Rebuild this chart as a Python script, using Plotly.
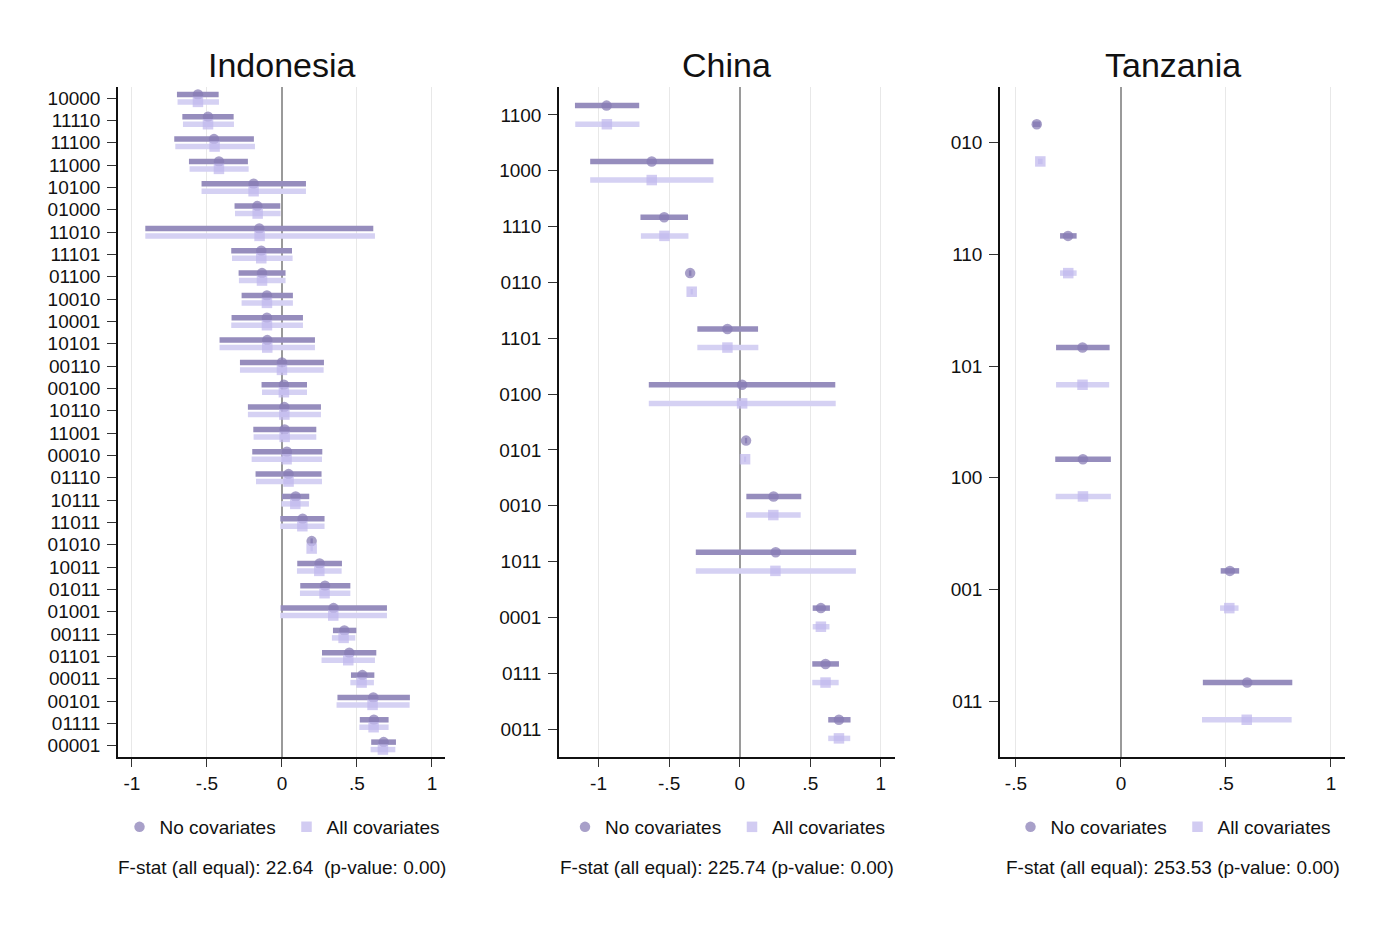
import plotly.graph_objects as go

# ---------------- data ----------------
ind_labels = ["10000", "11110", "11100", "11000", "10100", "01000", "11010", "11101", "01100", "10010",
              "10001", "10101", "00110", "00100", "10110", "11001", "00010", "01110", "10111", "11011",
              "01010", "10011", "01011", "01001", "00111", "01101", "00011", "00101", "01111", "00001"]
ind_nc_est = [-0.560, -0.493, -0.453, -0.420, -0.189, -0.164, -0.151, -0.138, -0.133, -0.100,
              -0.100, -0.098, 0.000, 0.013, 0.016, 0.018, 0.033, 0.044, 0.091, 0.138,
              0.198, 0.251, 0.287, 0.344, 0.416, 0.449, 0.536, 0.609, 0.613, 0.678]
ind_nc_lo = [-0.700, -0.664, -0.718, -0.620, -0.536, -0.316, -0.911, -0.338, -0.289, -0.269,
             -0.336, -0.416, -0.280, -0.136, -0.227, -0.191, -0.198, -0.176, 0.000, -0.011,
             0.190, 0.102, 0.122, -0.009, 0.340, 0.267, 0.460, 0.370, 0.519, 0.595]
ind_nc_hi = [-0.422, -0.322, -0.187, -0.227, 0.160, -0.011, 0.609, 0.067, 0.024, 0.073,
             0.140, 0.220, 0.280, 0.167, 0.260, 0.229, 0.269, 0.264, 0.182, 0.284,
             0.206, 0.400, 0.456, 0.700, 0.496, 0.629, 0.616, 0.853, 0.711, 0.760]
ind_ac_est = [-0.560, -0.493, -0.449, -0.420, -0.189, -0.162, -0.149, -0.138, -0.133, -0.100,
              -0.100, -0.098, 0.000, 0.013, 0.016, 0.018, 0.031, 0.044, 0.089, 0.136,
              0.198, 0.249, 0.284, 0.342, 0.411, 0.442, 0.531, 0.604, 0.611, 0.673]
ind_ac_lo = [-0.696, -0.660, -0.711, -0.616, -0.536, -0.313, -0.911, -0.333, -0.287, -0.269,
             -0.338, -0.416, -0.280, -0.133, -0.227, -0.189, -0.202, -0.173, -0.004, -0.011,
             0.190, 0.100, 0.120, -0.011, 0.333, 0.264, 0.456, 0.364, 0.516, 0.591]
ind_ac_hi = [-0.420, -0.320, -0.180, -0.222, 0.160, -0.009, 0.620, 0.071, 0.024, 0.073,
             0.140, 0.220, 0.278, 0.167, 0.260, 0.229, 0.267, 0.267, 0.180, 0.284,
             0.206, 0.398, 0.456, 0.700, 0.489, 0.620, 0.613, 0.851, 0.711, 0.756]

chn_labels = ["1100", "1000", "1110", "0110", "1101", "0100", "0101", "0010", "1011", "0001", "0111", "0011"]
chn_nc_est = [-0.943, -0.623, -0.535, -0.351, -0.087, 0.017, 0.045, 0.240, 0.255, 0.575, 0.608, 0.703]
chn_nc_lo = [-1.167, -1.059, -0.703, -0.360, -0.300, -0.644, 0.037, 0.047, -0.311, 0.517, 0.514, 0.627]
chn_nc_hi = [-0.712, -0.186, -0.366, -0.342, 0.130, 0.677, 0.053, 0.436, 0.825, 0.639, 0.703, 0.785]
chn_ac_est = [-0.941, -0.623, -0.533, -0.340, -0.087, 0.017, 0.038, 0.238, 0.253, 0.575, 0.608, 0.703]
chn_ac_lo = [-1.165, -1.059, -0.700, -0.348, -0.300, -0.644, 0.030, 0.045, -0.311, 0.517, 0.514, 0.627]
chn_ac_hi = [-0.710, -0.186, -0.363, -0.332, 0.132, 0.680, 0.046, 0.432, 0.823, 0.636, 0.701, 0.783]

tza_labels = ["010", "110", "101", "100", "001", "011"]
tza_nc_est = [-0.401, -0.252, -0.183, -0.181, 0.519, 0.601]
tza_nc_lo = [-0.420, -0.290, -0.309, -0.313, 0.475, 0.390]
tza_nc_hi = [-0.383, -0.211, -0.054, -0.048, 0.563, 0.816]
tza_ac_est = [-0.384, -0.251, -0.183, -0.181, 0.516, 0.599]
tza_ac_lo = [-0.395, -0.290, -0.309, -0.311, 0.472, 0.386]
tza_ac_hi = [-0.373, -0.211, -0.056, -0.048, 0.560, 0.813]

x_tickvals = [-1, -0.5, 0, 0.5, 1]
x_ticktext = ["-1", "-.5", "0", ".5", "1"]

panel_titles = ["Indonesia", "China", "Tanzania"]
fstat_texts = ["F-stat (all equal): 22.64  (p-value: 0.00)",
               "F-stat (all equal): 225.74 (p-value: 0.00)",
               "F-stat (all equal): 253.53 (p-value: 0.00)"]
series_names = ["No covariates", "All covariates"]

# ---------------- style / layout ----------------
W, H = 1392, 928
PAD = 8  # page body margin offset
FONT = "Liberation Sans, Arial, sans-serif"
DARK_BAR = "rgb(150,141,189)"
DARK_MK = "rgba(135,124,180,0.72)"
LIGHT_BAR = "rgb(213,209,243)"
LIGHT_MK = "rgba(192,185,237,0.72)"


def px_x(v):
    return (v - PAD) / W


def px_y(v):
    return 1 - (v - PAD) / H


panel_x = [(118, 445), (559, 895), (1000, 1345)]
panel_xrange = [(-1.093, 1.087), (-1.28, 1.10), (-0.576, 1.067)]
top_px, bot_px = 87, 757
OFF = 1.0 / 6.0

panels = [
    (ind_labels, ind_nc_est, ind_nc_lo, ind_nc_hi, ind_ac_est, ind_ac_lo, ind_ac_hi),
    (chn_labels, chn_nc_est, chn_nc_lo, chn_nc_hi, chn_ac_est, chn_ac_lo, chn_ac_hi),
    (tza_labels, tza_nc_est, tza_nc_lo, tza_nc_hi, tza_ac_est, tza_ac_lo, tza_ac_hi),
]

fig = go.Figure()
layout_upd = {}
for p, (labels, ne, nl, nh, ae, al, ah) in enumerate(panels):
    sfx = "" if p == 0 else str(p + 1)
    xa, ya = "x" + sfx, "y" + sfx
    leg = "legend" + sfx
    n = len(labels)
    idx = list(range(n))
    for (est, lo, hi, bar_c, mk_c, sym, size, off, name) in [
        (ne, nl, nh, DARK_BAR, DARK_MK, "circle", 10.5, -OFF, series_names[0]),
        (ae, al, ah, LIGHT_BAR, LIGHT_MK, "square", 10.5, OFF, series_names[1]),
    ]:
        fig.add_trace(go.Scatter(
            x=est, y=[i + off for i in idx], xaxis=xa, yaxis=ya,
            mode="markers", name=name, legend=leg,
            marker=dict(symbol=sym, size=size, color=mk_c, line=dict(width=0)),
            error_x=dict(type="data", symmetric=False,
                         array=[h - e for h, e in zip(hi, est)],
                         arrayminus=[e - l for e, l in zip(est, lo)],
                         color=bar_c, thickness=5.5, width=0),
            hoverinfo="skip",
        ))
    l, r = panel_x[p]
    layout_upd["xaxis" + sfx] = dict(
        domain=[px_x(l), px_x(r)], anchor=ya, range=list(panel_xrange[p]),
        tickvals=x_tickvals, ticktext=x_ticktext, ticks="outside", ticklen=8,
        tickwidth=1.3, tickcolor="#333", showline=True, linecolor="#111", linewidth=1.5,
        showgrid=True, gridcolor="#e8e8e8", gridwidth=1,
        zeroline=True, zerolinecolor="#9a9a9a", zerolinewidth=1.5,
        tickfont=dict(size=19, color="#111", family=FONT), ticklabelstandoff=0,
        fixedrange=True,
    )
    layout_upd["yaxis" + sfx] = dict(
        domain=[px_y(bot_px), px_y(top_px)], anchor=xa,
        range=[n - 0.5, -0.5], tickvals=idx, ticktext=labels,
        ticks="outside", ticklen=9, tickwidth=1.3, tickcolor="#333",
        showline=True, linecolor="#111", linewidth=1.5, showgrid=False, zeroline=False,
        tickfont=dict(size=19, color="#111", family=FONT), ticklabelstandoff=3,
        fixedrange=True,
    )
    cx = px_x((l + r) / 2 + 5)
    layout_upd[leg] = dict(
        orientation="h", x=cx, xanchor="center", y=px_y(827), yanchor="middle",
        font=dict(size=19, color="#111", family=FONT), bgcolor="rgba(0,0,0,0)",
        entrywidth=122, entrywidthmode="pixels",
        itemclick=False, itemdoubleclick=False,
    )

annotations = []
for p in range(3):
    l, r = panel_x[p]
    cx = px_x((l + r) / 2)
    annotations.append(dict(text=panel_titles[p], x=cx, y=px_y(65), xref="paper", yref="paper",
                            xanchor="center", yanchor="middle", showarrow=False,
                            font=dict(size=34, color="#111", family=FONT)))
    annotations.append(dict(text=fstat_texts[p], x=cx, y=px_y(867), xref="paper", yref="paper",
                            xanchor="center", yanchor="middle", showarrow=False,
                            font=dict(size=19, color="#111", family=FONT)))

fig.update_layout(
    width=W, height=H, margin=dict(l=0, r=0, t=0, b=0),
    paper_bgcolor="white", plot_bgcolor="white",
    font=dict(family=FONT, color="#111"),
    showlegend=True, annotations=annotations,
    **layout_upd,
)

fig.write_html("out.html", config={"displayModeBar": False})
